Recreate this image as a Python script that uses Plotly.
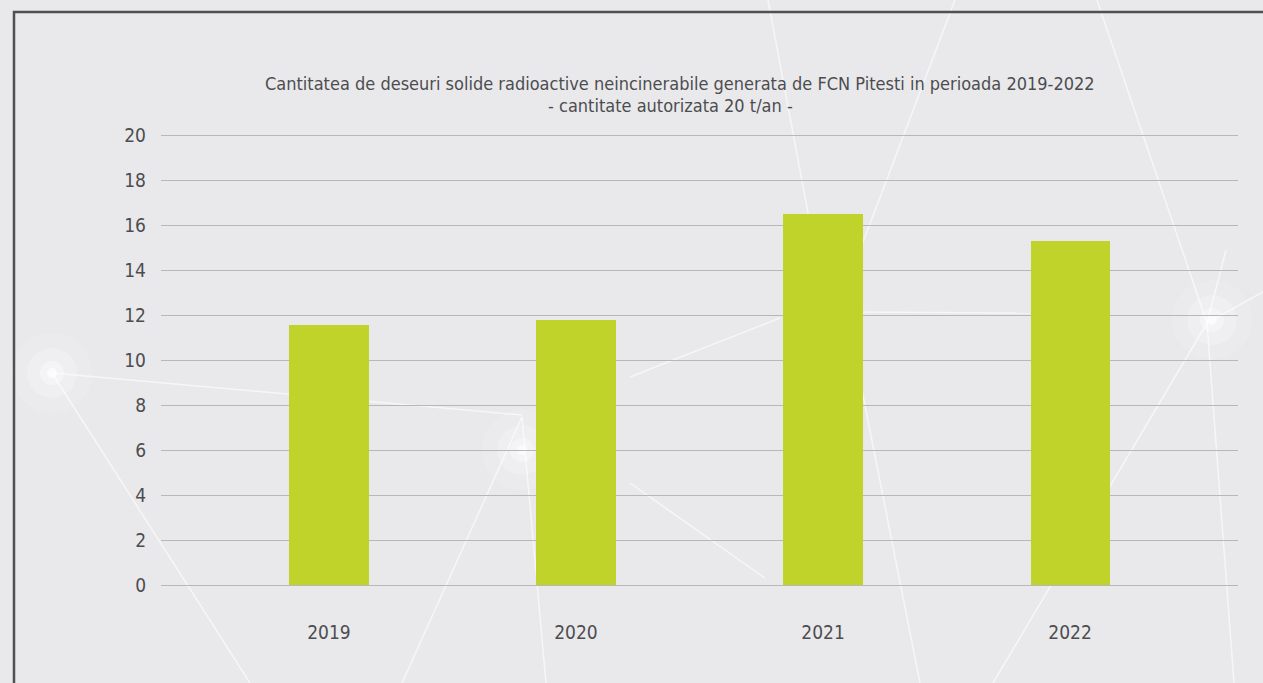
import plotly.graph_objects as go

years = ["2019", "2020", "2021", "2022"]
values = [11.6, 11.8, 16.5, 15.3]
value_labels = ["11.6", "11.8", "16.5", "15.3"]
y_ticks = [0, 2, 4, 6, 8, 10, 12, 14, 16, 18, 20]

title_line1 = "Cantitatea de deseuri solide radioactive neincinerabile generata de FCN Pitesti in perioada 2019-2022"
title_line2 = "- cantitate autorizata 20 t/an -"

W, H = 1263, 683
L, R, T, B = 161, 25, 129, 91
PW, PH = W - L - R, H - T - B
YPAD = 0.3
UNIT = PH / (20 + 2 * YPAD)

FONT = "Liberation Sans Narrow, DejaVu Sans Condensed, Arial Narrow, sans-serif"
TXT = "#4d4d4f"


def px(x):
    return (x - L) / PW


def py(y):
    return (H - B - y) / PH


fig = go.Figure()
fig.add_trace(go.Bar(
    x=years, y=values, width=0.32,
    marker=dict(color="#c0d32b", line=dict(width=0)),
    hoverinfo="skip",
))

for yr, v, lab in zip(years, values, value_labels):
    fig.add_annotation(x=yr, y=v, text=lab, showarrow=False, yshift=27,
                       font=dict(family=FONT, size=18, color=TXT))

fig.add_annotation(x=px(680), y=py(71), xref="paper", yref="paper", text=title_line1,
                   showarrow=False, font=dict(family=FONT, size=18, color=TXT))
fig.add_annotation(x=px(670), y=py(93), xref="paper", yref="paper", text=title_line2,
                   showarrow=False, font=dict(family=FONT, size=18, color=TXT))

shapes = []
# soft lighter gradient towards the right side
for i in range(12):
    x0 = 480 + i * 50
    shapes.append(dict(type="rect", xref="paper", yref="paper",
                       x0=px(x0), x1=px(1300), y0=py(700), y1=py(-10),
                       fillcolor="rgba(255,255,255,0.03)", line=dict(width=0), layer="below"))
# decorative white light streaks in the background
streaks = [
    ((52, 373), (522, 415)),
    ((52, 373), (250, 683)),
    ((402, 683), (522, 417)),
    ((522, 417), (546, 683)),
    ((630, 377), (780, 318)),
    ((630, 483), (765, 578)),
    ((856, 312), (1030, 313)),
    ((856, 360), (920, 683)),
    ((1097, 0), (1207, 323)),
    ((1207, 323), (1263, 292)),
    ((1207, 323), (993, 683)),
    ((1226, 250), (1207, 323)),
    ((1207, 323), (1234, 683)),
    ((768, 0), (830, 330)),
    ((955, 0), (860, 250)),
]
for (x0, y0), (x1, y1) in streaks:
    shapes.append(dict(type="line", xref="paper", yref="paper",
                       x0=px(x0), y0=py(y0), x1=px(x1), y1=py(y1),
                       line=dict(color="rgba(255,255,255,0.6)", width=1.5), layer="below"))
for (cx, cy) in [(52, 373), (1212, 320), (522, 450)]:
    for r, a in [(40, 0.12), (25, 0.2), (12, 0.35), (5, 0.6)]:
        shapes.append(dict(type="circle", xref="paper", yref="paper",
                           x0=px(cx - r), x1=px(cx + r), y0=py(cy - r), y1=py(cy + r),
                           fillcolor=f"rgba(255,255,255,{a})", line=dict(width=0), layer="below"))
# frame border
shapes.append(dict(type="rect", xref="paper", yref="paper",
                   x0=px(14), x1=px(1320), y0=py(740), y1=py(12),
                   line=dict(color="#505052", width=2.5), fillcolor="rgba(0,0,0,0)", layer="above"))

fig.update_layout(
    width=W, height=H,
    margin=dict(l=L, r=R, t=T, b=B, autoexpand=False),
    paper_bgcolor="#e9e9ec",
    plot_bgcolor="rgba(0,0,0,0)",
    showlegend=False,
    shapes=shapes,
    bargap=0,
    xaxis=dict(
        type="category", range=[-0.68, 3.68], showgrid=False, zeroline=False,
        showline=False, ticks="", ticklabelstandoff=27,
        tickfont=dict(family=FONT, size=19, color=TXT), fixedrange=True,
    ),
    yaxis=dict(
        range=[-YPAD, 20 + YPAD], tickvals=y_ticks, showgrid=True, gridcolor="#b7b7ba", gridwidth=1.2,
        zeroline=False, showline=False, ticks="", ticklabelstandoff=14,
        tickfont=dict(family=FONT, size=19, color=TXT), fixedrange=True,
    ),
)

fig.write_html("out.html", config={"displayModeBar": False},
               post_script="document.body.style.margin='0';document.body.style.background='#e9e9ec';")
